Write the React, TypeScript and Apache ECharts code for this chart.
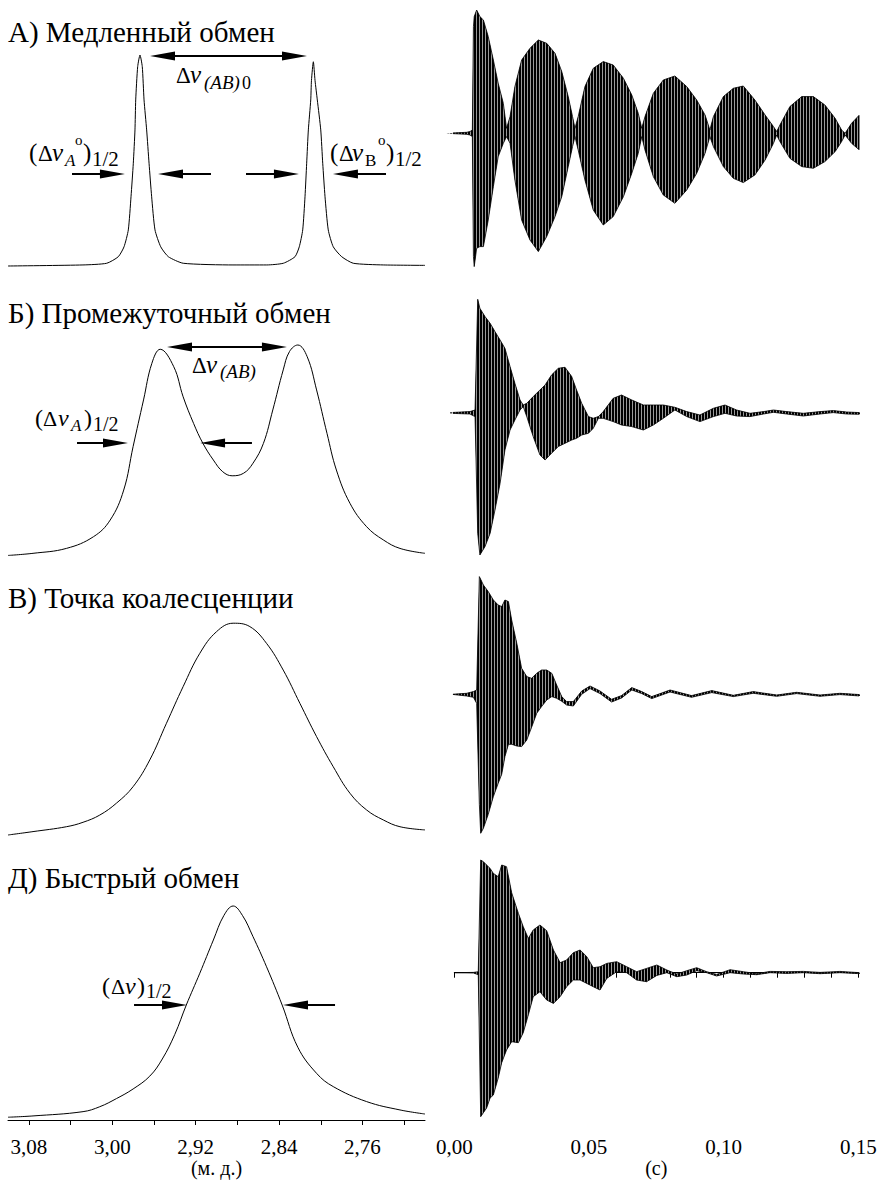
import React, { useEffect, useRef } from 'react';
import * as echarts from 'echarts';

const SERIF = "'Liberation Serif', 'Times New Roman', serif";

// ---------- NMR spectra (left column): chemical shift (ppm) vs. normalised intensity ----------
const SPEC_A_PPM = [3.1000, 3.0281, 3.0053, 2.9942, 2.9887, 2.9846, 2.9820, 2.9798, 2.9782, 2.9775, 2.9756, 2.9734, 2.9712, 2.9695, 2.9670, 2.9647, 2.9622, 2.9590, 2.9535, 2.9462, 2.9319, 2.8842, 2.8518, 2.8359, 2.8247, 2.8206, 2.8173, 2.8151, 2.8135, 2.8119, 2.8096, 2.8089, 2.8071, 2.8055, 2.8033, 2.8000, 2.7981, 2.7959, 2.7928, 2.7880, 2.7799, 2.7688, 2.7400, 2.7000];
const SPEC_A_INT = [0.000, 0.005, 0.013, 0.044, 0.091, 0.171, 0.328, 0.487, 0.645, 0.787, 0.945, 1.000, 0.945, 0.787, 0.645, 0.487, 0.328, 0.171, 0.091, 0.044, 0.013, 0.005, 0.005, 0.013, 0.044, 0.091, 0.171, 0.328, 0.487, 0.645, 0.787, 0.880, 0.968, 0.880, 0.787, 0.645, 0.487, 0.328, 0.171, 0.091, 0.044, 0.013, 0.005, 0.003];

const SPEC_B_PPM = [3.100, 3.076, 3.044, 3.018, 3.002, 2.989, 2.980, 2.970, 2.962, 2.954, 2.941, 2.932, 2.922, 2.913, 2.903, 2.894, 2.885, 2.874, 2.865, 2.855, 2.846, 2.836, 2.830, 2.822, 2.813, 2.804, 2.794, 2.785, 2.772, 2.756, 2.740, 2.724, 2.700];
const SPEC_B_INT = [0.012, 0.022, 0.045, 0.100, 0.178, 0.319, 0.523, 0.742, 0.914, 0.980, 0.898, 0.757, 0.632, 0.538, 0.460, 0.405, 0.386, 0.398, 0.445, 0.538, 0.695, 0.883, 0.969, 1.000, 0.945, 0.789, 0.585, 0.413, 0.257, 0.147, 0.085, 0.045, 0.022];

const SPEC_C_PPM = [3.100, 3.076, 3.044, 3.028, 3.012, 2.996, 2.980, 2.964, 2.948, 2.932, 2.916, 2.900, 2.884, 2.868, 2.852, 2.836, 2.820, 2.804, 2.788, 2.772, 2.756, 2.740, 2.724, 2.700];
const SPEC_C_INT = [0.000, 0.016, 0.039, 0.060, 0.094, 0.150, 0.228, 0.354, 0.527, 0.700, 0.857, 0.959, 0.999, 0.983, 0.904, 0.778, 0.621, 0.464, 0.322, 0.197, 0.118, 0.071, 0.039, 0.024];

const SPEC_D_PPM = [3.100, 3.076, 3.028, 3.012, 2.996, 2.980, 2.964, 2.952, 2.940, 2.929, 2.916, 2.903, 2.893, 2.884, 2.875, 2.865, 2.852, 2.837, 2.822, 2.804, 2.788, 2.756, 2.724, 2.700];
const SPEC_D_INT = [0.013, 0.019, 0.039, 0.062, 0.100, 0.145, 0.205, 0.285, 0.400, 0.537, 0.686, 0.841, 0.955, 1.000, 0.955, 0.857, 0.716, 0.537, 0.340, 0.218, 0.156, 0.086, 0.047, 0.028];

// ---------- FID (right column): time (s) vs. upper / lower envelope of the fast oscillation ----------
const FID_A_T = [-0.0031, 0.0046, 0.0058, 0.0067, 0.0071, 0.0074, 0.0083, 0.0095, 0.0108, 0.0126, 0.0145, 0.0163, 0.0182, 0.0194, 0.0207, 0.0225, 0.0250, 0.0281, 0.0312, 0.0343, 0.0374, 0.0399, 0.0423, 0.0439, 0.0448, 0.0460, 0.0485, 0.0516, 0.0553, 0.0590, 0.0628, 0.0659, 0.0683, 0.0696, 0.0708, 0.0739, 0.0776, 0.0819, 0.0863, 0.0900, 0.0931, 0.0949, 0.0962, 0.0999, 0.1036, 0.1073, 0.1116, 0.1154, 0.1185, 0.1197, 0.1209, 0.1246, 0.1290, 0.1333, 0.1376, 0.1414, 0.1438, 0.1451, 0.1475, 0.1504];
const FID_A_UP = [0, 0.01, 0.017, 0.033, 1.067, 1.167, 1.233, 1.167, 1.133, 0.967, 0.733, 0.5, 0.3, 0.05, 0.167, 0.467, 0.733, 0.85, 0.933, 0.9, 0.8, 0.617, 0.367, 0.167, 0.05, 0.167, 0.467, 0.65, 0.717, 0.683, 0.55, 0.383, 0.2, 0.05, 0.167, 0.4, 0.533, 0.573, 0.467, 0.333, 0.183, 0.033, 0.167, 0.367, 0.45, 0.473, 0.333, 0.183, 0.067, 0.017, 0.083, 0.267, 0.367, 0.367, 0.283, 0.15, 0.033, 0, 0.1, 0.183];
const FID_A_LO = [0, -0.01, -0.017, -0.033, -1.233, -1.333, -1.15, -1.133, -1.133, -0.867, -0.533, -0.233, -0.1, -0.033, -0.1, -0.467, -0.867, -1.067, -1.183, -1.033, -0.833, -0.633, -0.333, -0.133, -0.033, -0.167, -0.467, -0.767, -0.917, -0.833, -0.633, -0.4, -0.2, -0.033, -0.167, -0.433, -0.617, -0.7, -0.567, -0.4, -0.2, -0.033, -0.133, -0.333, -0.45, -0.493, -0.417, -0.267, -0.1, -0.017, -0.083, -0.25, -0.333, -0.35, -0.283, -0.183, -0.083, -0.017, -0.1, -0.167];

const FID_B_T = [-0.0016, 0.0058, 0.0077, 0.0087, 0.0095, 0.0114, 0.0133, 0.0151, 0.0170, 0.0188, 0.0207, 0.0225, 0.0244, 0.0256, 0.0269, 0.0293, 0.0318, 0.0337, 0.0361, 0.0386, 0.0411, 0.0436, 0.0454, 0.0473, 0.0498, 0.0516, 0.0535, 0.0553, 0.0590, 0.0621, 0.0659, 0.0702, 0.0739, 0.0776, 0.0819, 0.0863, 0.0912, 0.0962, 0.1005, 0.1048, 0.1098, 0.1148, 0.1185, 0.1234, 0.1296, 0.1358, 0.1407, 0.1457, 0.1506];
const FID_B_UP = [0.007, 0.017, 0.033, 1.14, 1.05, 0.967, 0.9, 0.817, 0.733, 0.65, 0.467, 0.3, 0.133, 0.083, 0.1, 0.167, 0.233, 0.283, 0.383, 0.45, 0.46, 0.367, 0.233, 0.1, -0.033, -0.05, -0.033, 0.017, 0.15, 0.183, 0.133, 0.083, 0.083, 0.083, 0.06, 0.017, -0.017, 0.05, 0.083, 0.033, 0, 0.017, 0.033, 0.017, 0, 0.017, 0.027, 0.013, 0.007];
const FID_B_LO = [0, -0.007, -0.033, -1.2, -1.417, -1.333, -1.2, -0.967, -0.7, -0.367, -0.167, -0.067, 0.033, 0.067, -0.033, -0.233, -0.417, -0.467, -0.4, -0.333, -0.3, -0.267, -0.25, -0.217, -0.2, -0.15, -0.05, -0.05, -0.083, -0.117, -0.133, -0.167, -0.117, -0.05, 0.033, -0.033, -0.083, -0.033, 0, -0.027, -0.033, -0.007, 0.01, -0.007, -0.027, -0.007, 0.007, -0.007, -0.01];

const FID_C_T = [-0.0010, 0.0046, 0.0071, 0.0083, 0.0093, 0.0098, 0.0108, 0.0126, 0.0145, 0.0163, 0.0176, 0.0188, 0.0201, 0.0213, 0.0232, 0.0250, 0.0269, 0.0287, 0.0306, 0.0324, 0.0343, 0.0362, 0.0380, 0.0399, 0.0417, 0.0442, 0.0473, 0.0504, 0.0541, 0.0584, 0.0621, 0.0659, 0.0696, 0.0733, 0.0801, 0.0881, 0.0956, 0.1036, 0.1110, 0.1197, 0.1271, 0.1358, 0.1432, 0.1506];
const FID_C_UP = [0, 0.01, 0.027, 0.043, 1.177, 1.15, 1.093, 1.027, 0.943, 0.893, 0.877, 0.943, 0.927, 0.743, 0.51, 0.26, 0.177, 0.16, 0.21, 0.243, 0.243, 0.21, 0.093, -0.023, -0.073, -0.073, 0.033, 0.083, 0.033, -0.05, -0.013, 0.067, 0.027, -0.023, 0.043, -0.013, 0.037, -0.01, 0.027, -0.007, 0.02, -0.007, 0.01, -0.003];
const FID_C_LO = [0, -0.017, -0.03, -0.09, -1.1, -1.39, -1.34, -1.2, -1.023, -0.89, -0.8, -0.623, -0.5, -0.5, -0.517, -0.523, -0.457, -0.33, -0.19, -0.123, -0.057, -0.023, -0.04, -0.07, -0.107, -0.117, 0, 0.057, 0.007, -0.077, -0.037, 0.043, 0.007, -0.043, 0.023, -0.03, 0.017, -0.023, 0.01, -0.02, 0.007, -0.02, -0.003, -0.017];

const FID_D_T = [0.0003, 0.0071, 0.0089, 0.0098, 0.0108, 0.0120, 0.0133, 0.0145, 0.0163, 0.0176, 0.0194, 0.0213, 0.0238, 0.0256, 0.0275, 0.0293, 0.0318, 0.0343, 0.0368, 0.0393, 0.0417, 0.0442, 0.0467, 0.0492, 0.0516, 0.0541, 0.0566, 0.0603, 0.0640, 0.0677, 0.0714, 0.0752, 0.0789, 0.0826, 0.0863, 0.0900, 0.0937, 0.0974, 0.1024, 0.1073, 0.1123, 0.1172, 0.1234, 0.1296, 0.1358, 0.1432, 0.1506];
const FID_D_UP = [0, 0.003, 0.01, 1.127, 1.11, 1.077, 1.043, 0.993, 0.96, 1.077, 1.06, 0.8, 0.593, 0.46, 0.343, 0.427, 0.477, 0.42, 0.227, 0.1, 0.127, 0.2, 0.227, 0.16, 0.05, 0.06, 0.093, 0.11, 0.06, 0.01, 0.043, 0.077, 0.027, -0.013, 0.02, 0.05, 0.01, -0.017, 0.03, 0.01, -0.01, 0.013, 0.01, 0.013, 0.003, 0.013, 0];
const FID_D_LO = [0, -0.003, -0.02, -1.44, -1.4, -1.353, -1.253, -1.223, -1.053, -0.9, -0.773, -0.69, -0.7, -0.6, -0.42, -0.24, -0.19, -0.273, -0.307, -0.24, -0.14, -0.073, -0.073, -0.107, -0.14, -0.173, -0.057, 0.01, 0, -0.073, -0.09, -0.027, 0, -0.04, -0.023, 0.02, 0, -0.033, 0, -0.013, -0.02, 0, -0.007, 0, -0.01, 0, -0.01];

// ---------- axes ----------
const PPM_TICKS = [3.08, 3.04, 3.00, 2.96, 2.92, 2.88, 2.84, 2.80, 2.76, 2.72];
const PPM_LABELS = [3.08, 3.00, 2.92, 2.84, 2.76];
const TIME_TICKS = [0, 0.01, 0.02, 0.03, 0.04, 0.05, 0.06, 0.07, 0.08, 0.09, 0.10, 0.11, 0.12, 0.13, 0.14, 0.15];
const TIME_LABELS = [0, 0.05, 0.10, 0.15];

// ---------- annotation arrows (ppm from, ppm to, intensity level, double-headed) ----------
const ARROWS_A: [number, number, number, boolean][] = [
  [2.9518, 2.8252, 0.995, true],
  [3.0386, 2.9998, 0.436, false],
  [2.9053, 2.9441, 0.436, false],
  [2.8717, 2.8329, 0.436, false],
  [2.7374, 2.7763, 0.436, false],
];
const ARROWS_B: [number, number, number, boolean][] = [
  [2.9355, 2.8444, 0.991, true],
  [3.0338, 2.9969, 0.54, false],
  [2.8660, 2.9038, 0.54, false],
];
const ARROWS_D: [number, number, number, boolean][] = [
  [2.9791, 2.9403, 0.537, false],
  [2.7863, 2.8242, 0.537, false],
];

const TITLES = ['А) Медленный обмен', 'Б) Промежуточный обмен', 'В) Точка коалесценции', 'Д) Быстрый обмен'];

// label pieces: text, x, baseline, size, italic
type Piece = [string, number, number, number, boolean];
const LABELS: Piece[][] = [
  [[TITLES[0], 8, 42, 29, false]],
  [[TITLES[1], 8, 323, 29, false]],
  [[TITLES[2], 8, 608, 29, false]],
  [[TITLES[3], 8, 888, 29, false]],
  [['Δ', 176, 83, 23, false], ['ν', 190, 83, 25, true], ['(AB)', 204, 89, 19, true], ['0', 242, 89, 18, false]],
  [['(', 29, 161, 25, false], ['Δ', 38, 161, 23, false], ['ν', 52, 161, 25, true], ['A', 65, 166, 17, true], ['o', 75, 145, 15, false], [')', 83, 161, 25, false], ['1/2', 92, 166, 21, false]],
  [['(', 330, 161, 25, false], ['Δ', 339, 161, 23, false], ['ν', 352, 161, 25, true], ['B', 365, 166, 17, false], ['o', 378, 145, 15, false], [')', 386, 161, 25, false], ['1/2', 395, 166, 21, false]],
  [['Δ', 192, 373, 23, false], ['ν', 206, 373, 25, true], ['(AB)', 220, 378, 19, true]],
  [['(', 35, 426, 24, false], ['Δ', 43, 426, 22, false], ['ν', 58, 426, 24, true], ['A', 71, 431, 17, true], [')', 84, 426, 24, false], ['1/2', 93, 431, 20, false]],
  [['(', 102, 994, 24, false], ['Δ', 111, 994, 22, false], ['ν', 125, 994, 24, true], [')', 137, 994, 24, false], ['1/2', 146, 998, 20, false]],
];

const LEFT_GRIDS = [
  { top: 55, height: 211 },
  { top: 345, height: 213 },
  { top: 623, height: 212 },
  { top: 906, height: 214 },
];
const RIGHT_GRIDS = [
  { top: 3.3, height: 260 },
  { top: 283.3, height: 260 },
  { top: 564.3, height: 260 },
  { top: 842.7, height: 260 },
];

const fmt = (v: number) => v.toFixed(2).replace('.', ',');

export default function App() {
  const ref = useRef<HTMLDivElement>(null);
  useEffect(() => {
    if (!ref.current) return;
    const chart = echarts.init(ref.current, null, { renderer: 'svg' });

    const cv = document.createElement('canvas');
    cv.width = 3; cv.height = 3;
    const g = cv.getContext('2d')!;
    g.fillStyle = '#000';
    g.fillRect(0, 0, 2, 3);
    const stripes: any = { image: cv, repeat: 'repeat', imageWidth: 3, imageHeight: 3 };

    const grids: any[] = [];
    const xAxes: any[] = [];
    const yAxes: any[] = [];
    const axisFont = { fontFamily: SERIF, fontSize: 21, color: '#000' };
    const nameFont = { fontFamily: SERIF, fontSize: 20, color: '#000' };

    LEFT_GRIDS.forEach((gd, i) => {
      grids.push({ left: 8, width: 417, top: gd.top, height: gd.height });
      const bottom = i === 3;
      xAxes.push({
        gridIndex: i, type: 'value', min: 2.70, max: 3.10, inverse: true, show: bottom,
        offset: bottom ? 8 : 0,
        axisLine: { show: true, lineStyle: { color: '#000', width: 1 } },
        axisTick: { show: true, length: 5, customValues: PPM_TICKS, lineStyle: { color: '#000' } },
        axisLabel: { customValues: PPM_LABELS, formatter: fmt, margin: 8, ...axisFont },
        splitLine: { show: false },
        name: '(м. д.)', nameLocation: 'middle', nameGap: 28, nameTextStyle: nameFont,
      });
      yAxes.push({ gridIndex: i, type: 'value', min: 0, max: 1, show: false });
    });
    RIGHT_GRIDS.forEach((gd, i) => {
      grids.push({ left: 454.3, width: 404, top: gd.top, height: gd.height });
      const bottom = i === 3;
      xAxes.push({
        gridIndex: 4 + i, type: 'value', min: 0, max: 0.15, show: bottom,
        offset: bottom ? 25.3 : 0,
        axisLine: { show: true, lineStyle: { color: '#000', width: 1 } },
        axisTick: { show: true, length: 5, customValues: TIME_TICKS, lineStyle: { color: '#000' } },
        axisLabel: { customValues: TIME_LABELS, formatter: fmt, margin: 8, ...axisFont },
        splitLine: { show: false },
        name: '(с)', nameLocation: 'middle', nameGap: 28, nameTextStyle: nameFont,
      });
      yAxes.push({ gridIndex: 4 + i, type: 'value', min: -1.3, max: 1.3, show: false });
    });

    const arrowMark = (arrows: [number, number, number, boolean][]) => ({
      silent: true,
      symbol: ['none', 'triangle'],
      symbolSize: [9, 25],
      label: { show: false },
      lineStyle: { color: '#000', width: 2, type: 'solid' },
      emphasis: { disabled: true },
      data: arrows.map(([a, b, y, dbl]) => [
        { coord: [a, y], symbol: dbl ? 'triangle' : 'none', symbolSize: [9, 25] },
        { coord: [b, y], symbol: 'triangle', symbolSize: [9, 25] },
      ]),
    });

    const specs = [
      [SPEC_A_PPM, SPEC_A_INT, ARROWS_A],
      [SPEC_B_PPM, SPEC_B_INT, ARROWS_B],
      [SPEC_C_PPM, SPEC_C_INT, []],
      [SPEC_D_PPM, SPEC_D_INT, ARROWS_D],
    ] as any[];
    const series: any[] = [];
    specs.forEach(([xs, ys, arrows], i) => {
      series.push({
        type: 'line', xAxisIndex: i, yAxisIndex: i,
        data: xs.map((x: number, k: number) => [x, ys[k]]),
        smooth: i === 0 ? 0.2 : 0.4, symbol: 'none', clip: false, silent: true,
        lineStyle: { color: '#000', width: 1 },
        markLine: arrows.length ? arrowMark(arrows) : undefined,
      });
    });

    const fids = [
      [FID_A_T, FID_A_UP, FID_A_LO],
      [FID_B_T, FID_B_UP, FID_B_LO],
      [FID_C_T, FID_C_UP, FID_C_LO],
      [FID_D_T, FID_D_UP, FID_D_LO],
    ];
    fids.forEach(([ts, up, lo], i) => {
      // striped band between the envelopes = the dense fast oscillation
      series.push({
        type: 'custom', xAxisIndex: 4 + i, yAxisIndex: 4 + i, silent: true, clip: false,
        data: ts.map((t, k) => [t, up[k], lo[k]]),
        encode: { x: 0, y: [1, 2] },
        renderItem: (params: any, api: any) => {
          if (params.dataIndexInside !== 0) return null;
          const n = params.dataInsideLength;
          const top: number[][] = [];
          const bot: number[][] = [];
          for (let j = 0; j < n; j++) {
            const t = api.value(0, j);
            top.push(api.coord([t, api.value(1, j)]));
            bot.push(api.coord([t, api.value(2, j)]));
          }
          const pts = top.concat(bot.reverse());
          return {
            type: 'group',
            children: [
              { type: 'polygon', shape: { points: pts }, style: { fill: '#9a9a9a', stroke: null } },
              { type: 'polygon', shape: { points: pts }, style: { fill: stripes, stroke: null } },
            ],
          };
        },
      });
      [up, lo].forEach((env) => {
        series.push({
          type: 'line', xAxisIndex: 4 + i, yAxisIndex: 4 + i,
          data: ts.map((t, k) => [t, env[k]]),
          symbol: 'none', clip: false, silent: true,
          lineStyle: { color: '#000', width: 0.8 },
        });
      });
    });

    const graphics: any[] = [];
    LABELS.forEach((pieces) => {
      pieces.forEach(([text, x, base, size, italic]) => {
        graphics.push({
          type: 'text', x, y: base - 0.34 * size, silent: true,
          style: {
            text, fill: '#000',
            fontFamily: SERIF, fontSize: size, fontStyle: italic ? 'italic' : 'normal',
            textAlign: 'left', textVerticalAlign: 'middle', align: 'left', verticalAlign: 'middle',
          },
        });
      });
    });

    chart.setOption({
      animation: false,
      backgroundColor: '#fff',
      grid: grids,
      xAxis: xAxes,
      yAxis: yAxes,
      series,
      graphic: { elements: graphics },
    });
    return () => chart.dispose();
  }, []);
  return <div ref={ref} style={{ position: 'absolute', left: 0, top: 0, width: 880, height: 1188 }} />;
}
